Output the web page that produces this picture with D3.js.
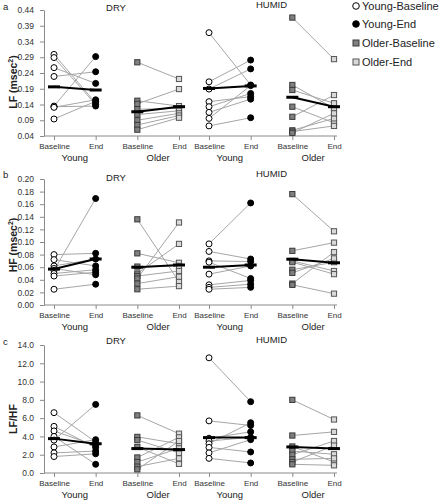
<!DOCTYPE html>
<html><head><meta charset="utf-8">
<script src="https://cdn.jsdelivr.net/npm/d3@7"></script>
<style>
body{margin:0;background:#fff}
svg{display:block}
text{font-family:"Liberation Sans",Arial,sans-serif}
</style>
</head><body>
<svg id="chart" width="441" height="500"></svg>
<script>
// ---------- DATA ----------
const seriesKeys = ["Young-Baseline", "Young-End", "Older-Baseline", "Older-End"];
const groups = ["Young", "Older"];
const conditions = ["DRY", "HUMID"];

// LF (msec^2)
const lfDryYoungBase   = [0.299, 0.289, 0.257, 0.229, 0.135, 0.133, 0.131, 0.094];
const lfDryYoungEnd    = [0.145, 0.140, 0.207, 0.244, 0.292, 0.135, 0.155, 0.150];
const lfDryOlderBase   = [0.274, 0.152, 0.142, 0.125, 0.108, 0.090, 0.075, 0.060];
const lfDryOlderEnd    = [0.221, 0.135, 0.189, 0.128, 0.120, 0.112, 0.105, 0.098];
const lfHumYoungBase   = [0.368, 0.212, 0.189, 0.149, 0.133, 0.115, 0.096, 0.072];
const lfHumYoungEnd    = [0.202, 0.281, 0.253, 0.165, 0.175, 0.157, 0.200, 0.098];
const lfHumOlderBase   = [0.416, 0.202, 0.186, 0.133, 0.101, 0.058, 0.054, 0.050];
const lfHumOlderEnd    = [0.284, 0.128, 0.144, 0.082, 0.170, 0.096, 0.072, 0.112];
const lfMeansDry       = [0.196, 0.186, 0.117, 0.133];
const lfMeansHum       = [0.191, 0.199, 0.163, 0.133];
const lfTicks          = [0.04, 0.09, 0.14, 0.19, 0.24, 0.29, 0.34, 0.39, 0.44];

// HF (msec^2)
const hfDryYoungBase   = [0.080, 0.072, 0.062, 0.058, 0.055, 0.050, 0.046, 0.025];
const hfDryYoungEnd    = [0.082, 0.062, 0.073, 0.048, 0.169, 0.056, 0.052, 0.033];
const hfDryOlderBase   = [0.136, 0.082, 0.061, 0.050, 0.046, 0.042, 0.034, 0.025];
const hfDryOlderEnd    = [0.037, 0.067, 0.062, 0.097, 0.054, 0.131, 0.045, 0.030];
const hfHumYoungBase   = [0.097, 0.085, 0.070, 0.068, 0.049, 0.032, 0.028, 0.025];
const hfHumYoungEnd    = [0.162, 0.073, 0.069, 0.042, 0.062, 0.039, 0.033, 0.028];
const hfHumOlderBase   = [0.176, 0.086, 0.070, 0.068, 0.056, 0.051, 0.034, 0.032];
const hfHumOlderEnd    = [0.117, 0.099, 0.054, 0.049, 0.068, 0.074, 0.084, 0.018];
const hfMeansDry       = [0.057, 0.073, 0.060, 0.0635];
const hfMeansHum       = [0.060, 0.0635, 0.0727, 0.067];
const hfTicks          = [0.00, 0.02, 0.04, 0.06, 0.08, 0.10, 0.12, 0.14, 0.16, 0.18, 0.20];

// LF/HF
const rDryYoungBase    = [6.6, 5.1, 4.6, 4.0, 3.6, 2.85, 2.2, 1.8];
const rDryYoungEnd     = [3.4, 2.8, 3.0, 0.95, 7.5, 3.65, 2.4, 2.1];
const rDryOlderBase    = [6.3, 3.95, 3.6, 2.85, 1.7, 1.2, 0.7, 0.4];
const rDryOlderEnd     = [4.3, 3.2, 2.2, 1.0, 3.9, 2.7, 1.6, 3.5];
const rHumYoungBase    = [12.6, 5.7, 3.8, 3.5, 3.2, 2.8, 2.2, 1.6];
const rHumYoungEnd     = [7.8, 5.2, 4.5, 3.9, 5.5, 2.3, 3.65, 1.1];
const rHumOlderBase    = [8.0, 4.1, 2.9, 2.4, 2.0, 1.5, 1.2, 0.95];
const rHumOlderEnd     = [5.85, 4.5, 1.2, 2.05, 3.5, 1.6, 3.0, 0.84];
const rMeansDry        = [3.76, 3.2, 2.67, 2.56];
const rMeansHum        = [3.87, 3.87, 2.85, 2.67];
const rTicks           = [0, 2, 4, 6, 8, 10, 12, 14];

// ---------- LAYOUT ----------
const svg = d3.select("#chart");
const axisX = 44, axisXEnd = 337;
const xScales = [
  d3.scalePoint().domain(seriesKeys).range([54, 179]),
  d3.scalePoint().domain(seriesKeys).range([209, 334])
];
const styles = {
  "Young-Baseline": {shape: "circle", fill: "#ffffff", stroke: "#000000"},
  "Young-End":      {shape: "circle", fill: "#000000", stroke: "#000000"},
  "Older-Baseline": {shape: "square", fill: "#808080", stroke: "#3a3a3a"},
  "Older-End":      {shape: "square", fill: "#d9d9d9", stroke: "#555555"}
};
const axisColor = "#8a8a8a";

const panels = [
  {letter: "a", label: ["LF (msec", "2", ")"], top: 10, bot: 136, domain: [0.04, 0.44], ticks: lfTicks, fmt: ".2f",
   titleY: [11, 8], letterY: 10, labelCY: 82,
   values: [[lfDryYoungBase, lfDryYoungEnd, lfDryOlderBase, lfDryOlderEnd],
            [lfHumYoungBase, lfHumYoungEnd, lfHumOlderBase, lfHumOlderEnd]],
   means: [lfMeansDry, lfMeansHum]},
  {letter: "b", label: ["HF (msec", "2", ")"], top: 179, bot: 305, domain: [0, 0.20], ticks: hfTicks, fmt: ".2f",
   titleY: [181, 177], letterY: 178, labelCY: 245,
   values: [[hfDryYoungBase, hfDryYoungEnd, hfDryOlderBase, hfDryOlderEnd],
            [hfHumYoungBase, hfHumYoungEnd, hfHumOlderBase, hfHumOlderEnd]],
   means: [hfMeansDry, hfMeansHum]},
  {letter: "c", label: ["LF/HF"], top: 345, bot: 473, domain: [0, 14], ticks: rTicks, fmt: ".1f",
   titleY: [344, 343], letterY: 345, labelCY: 419,
   values: [[rDryYoungBase, rDryYoungEnd, rDryOlderBase, rDryOlderEnd],
            [rHumYoungBase, rHumYoungEnd, rHumOlderBase, rHumOlderEnd]],
   means: [rMeansDry, rMeansHum]}
];

function drawMarker(sel, key, cx, cy, size) {
  const st = styles[key];
  if (st.shape === "circle") {
    sel.append("circle").attr("cx", cx).attr("cy", cy).attr("r", size)
      .attr("fill", st.fill).attr("stroke", st.stroke).attr("stroke-width", 1);
  } else {
    sel.append("rect").attr("x", cx - size).attr("y", cy - size)
      .attr("width", size * 2).attr("height", size * 2)
      .attr("fill", st.fill).attr("stroke", st.stroke).attr("stroke-width", 1);
  }
}

panels.forEach(p => {
  const y = d3.scaleLinear().domain(p.domain).range([p.bot, p.top]);
  const g = svg.append("g");

  // y axis
  const ya = g.append("g").attr("transform", `translate(${axisX},0)`)
    .call(d3.axisLeft(y).tickValues(p.ticks).tickFormat(d3.format(p.fmt)).tickSize(4).tickSizeOuter(0).tickPadding(6));
  ya.select(".domain").attr("stroke", axisColor);
  ya.selectAll(".tick line").attr("stroke", axisColor);
  ya.selectAll(".tick text").attr("font-size", 8.5).attr("fill", "#333")
    .attr("font-family", "Liberation Sans, Arial, sans-serif");

  // x axis baseline
  g.append("line").attr("x1", axisX).attr("x2", axisXEnd).attr("y1", p.bot).attr("y2", p.bot)
    .attr("stroke", axisColor).attr("stroke-width", 1);

  // y label
  const lt = g.append("text").attr("transform", `translate(13,${p.labelCY}) rotate(-90)`)
    .attr("text-anchor", "middle").attr("dy", "0.35em")
    .attr("font-size", 10.5).attr("font-weight", "bold").attr("fill", "#222");
  lt.append("tspan").text(p.label[0]);
  if (p.label.length > 1) {
    lt.append("tspan").attr("font-size", 7).attr("dy", "-0.5em").text(p.label[1]);
    lt.append("tspan").attr("dy", "0.35em").text(p.label[2]);
  }

  // panel letter
  g.append("text").attr("x", 3).attr("y", p.letterY).attr("font-size", 9.5).attr("fill", "#222").text(p.letter);

  conditions.forEach((cond, ci) => {
    const x = xScales[ci];
    // x ticks and labels
    const xa = g.append("g").attr("transform", `translate(0,${p.bot})`)
      .call(d3.axisBottom(x).tickSize(4).tickPadding(3).tickFormat(k => k.split("-")[1]));
    xa.select(".domain").remove();
    xa.selectAll(".tick line").attr("stroke", axisColor);
    xa.selectAll(".tick text").attr("font-size", 8).attr("fill", "#333")
      .attr("font-family", "Liberation Sans, Arial, sans-serif");

    // group labels
    groups.forEach((gr, gi) => {
      const mid = (x(seriesKeys[gi * 2]) + x(seriesKeys[gi * 2 + 1])) / 2;
      g.append("text").attr("x", mid).attr("y", p.bot + 25).attr("text-anchor", "middle")
        .attr("font-size", 9.5).attr("fill", "#222").text(gr);
    });

    // condition title
    const cmid = (x(seriesKeys[0]) + x(seriesKeys[3])) / 2;
    g.append("text").attr("x", cmid + (ci === 0 ? -0.5 : 0)).attr("y", p.titleY[ci]).attr("text-anchor", "middle")
      .attr("font-size", 9.5).attr("fill", "#222").text(cond);

    const vals = p.values[ci];
    // connecting lines
    groups.forEach((gr, gi) => {
      const kb = seriesKeys[gi * 2], ke = seriesKeys[gi * 2 + 1];
      const base = vals[gi * 2], end = vals[gi * 2 + 1];
      base.forEach((v, i) => {
        g.append("line").attr("x1", x(kb)).attr("y1", y(v)).attr("x2", x(ke)).attr("y2", y(end[i]))
          .attr("stroke", "#a6a6a6").attr("stroke-width", 1);
      });
    });
    // points
    seriesKeys.forEach((k, si) => {
      vals[si].forEach(v => drawMarker(g, k, x(k), y(v), styles[k].shape === "circle" ? 3 : 2.6));
    });
    // means
    const m = p.means[ci];
    groups.forEach((gr, gi) => {
      const kb = seriesKeys[gi * 2], ke = seriesKeys[gi * 2 + 1];
      g.append("line").attr("x1", x(kb)).attr("y1", y(m[gi * 2])).attr("x2", x(ke)).attr("y2", y(m[gi * 2 + 1]))
        .attr("stroke", "#000").attr("stroke-width", 2);
      [kb, ke].forEach((k, j) => {
        const yy = y(m[gi * 2 + j]);
        g.append("line").attr("x1", x(k) - 6).attr("x2", x(k) + 6).attr("y1", yy).attr("y2", yy)
          .attr("stroke", "#000").attr("stroke-width", 3);
      });
    });
  });
});

// legend
const legendY = [6, 24, 43, 62];
const lg = svg.append("g");
seriesKeys.forEach((k, i) => {
  drawMarker(lg, k, 356, legendY[i], styles[k].shape === "circle" ? 3.3 : 3);
  lg.append("text").attr("x", 362).attr("y", legendY[i]).attr("dy", "0.36em")
    .attr("font-size", 11).attr("fill", "#222").text(k);
});
</script>
</body></html>
